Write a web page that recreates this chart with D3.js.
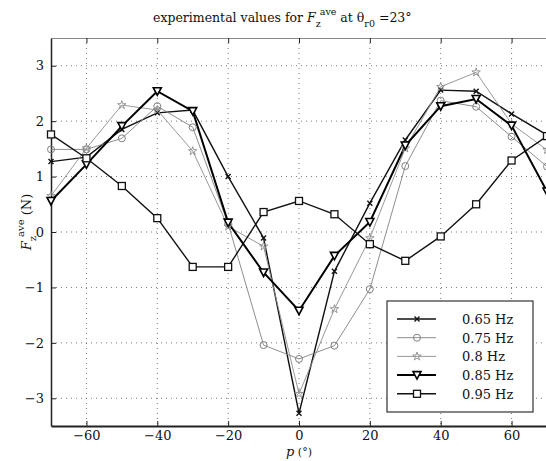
<!DOCTYPE html>
<html>
<head>
<meta charset="utf-8">
<script src="https://cdn.jsdelivr.net/npm/d3@7"></script>
<style>
  body { margin: 0; background: #fff; }
  text { font-family: "DejaVu Serif", "Liberation Serif", serif; fill: #111; }
</style>
</head>
<body>
<div class="canvas"></div>
<script>
const width = 546, height = 461;
const margin = {top: 38, right: -1, bottom: 35, left: 51};

// p (deg)
const angles = [-70, -60, -50, -40, -30, -20, -10, 0, 10, 20, 30, 40, 50, 60, 70];
// F_z ave (N), one array per frequency
const f065 = [1.27, 1.35, 1.85, 2.15, 2.20, 1.00, -0.11, -3.27, -0.71, 0.52, 1.66, 2.56, 2.54, 2.13, 1.75];
const f075 = [1.49, 1.49, 1.69, 2.27, 1.89, 0.15, -2.04, -2.29, -2.05, -1.03, 1.19, 2.37, 2.26, 1.72, 1.18];
const f080 = [0.65, 1.51, 2.29, 2.20, 1.46, 0.10, -0.26, -2.92, -1.39, -0.11, 1.51, 2.62, 2.88, 1.95, 1.48];
const f085 = [0.56, 1.22, 1.91, 2.54, 2.18, 0.17, -0.73, -1.42, -0.43, 0.18, 1.56, 2.27, 2.40, 1.92, 0.73];
const f095 = [1.76, 1.33, 0.83, 0.25, -0.63, -0.63, 0.36, 0.56, 0.32, -0.22, -0.52, -0.08, 0.50, 1.29, 1.73];
const labels = ['0.65 Hz', '0.75 Hz', '0.8 Hz', '0.85 Hz', '0.95 Hz'];
const xTicks = [-60, -40, -20, 0, 20, 40, 60];
const yTicks = [-3, -2, -1, 0, 1, 2, 3];

const series = [
  {name: labels[0], vals: f065, color: '#111', w: 1.4, sym: 'x'},
  {name: labels[1], vals: f075, color: '#808080', w: 0.9, sym: 'o'},
  {name: labels[2], vals: f080, color: '#8c8c8c', w: 0.9, sym: '*'},
  {name: labels[3], vals: f085, color: '#000', w: 2, sym: 'v'},
  {name: labels[4], vals: f095, color: '#111', w: 1.4, sym: 's'}
];

const svg = d3.select('.canvas').append('svg')
  .attr('width', width).attr('height', height);

const x = d3.scaleLinear().domain([-70, 70]).range([margin.left, 547]);
const y = d3.scaleLinear().domain([-3.5, 3.5]).range([426, margin.top]);

svg.append('clipPath').attr('id', 'clip').append('rect')
  .attr('x', x(-70) - 6).attr('y', y(3.5) - 6)
  .attr('width', x(70) - x(-70) + 12).attr('height', y(-3.5) - y(3.5) + 6);

// grid
const grid = svg.append('g');
grid.selectAll('.gx').data(xTicks).enter().append('line')
  .attr('x1', d => x(d)).attr('x2', d => x(d))
  .attr('y1', y(3.5)).attr('y2', y(-3.5))
  .attr('stroke', '#555').attr('stroke-width', 0.8).attr('stroke-dasharray', '1,4');
grid.selectAll('.gy').data(yTicks).enter().append('line')
  .attr('x1', x(-70)).attr('x2', x(70))
  .attr('y1', d => y(d)).attr('y2', d => y(d))
  .attr('stroke', '#555').attr('stroke-width', 0.8).attr('stroke-dasharray', '1,4');

// axes
const xAxisGroup = svg.append('g').attr('transform', `translate(0, ${y(-3.5)})`);
xAxisGroup.call(d3.axisBottom(x).tickValues(xTicks).tickSizeInner(-5).tickSizeOuter(0).tickPadding(5)
  .tickFormat(d => d < 0 ? '\u2212' + Math.abs(d) : d));
const xTop = svg.append('g').attr('transform', `translate(0, ${y(3.5)})`);
xTop.call(d3.axisTop(x).tickValues(xTicks).tickSizeInner(-5).tickSizeOuter(0).tickFormat(''));
const yAxisGroup = svg.append('g').attr('transform', `translate(${x(-70)}, 0)`);
yAxisGroup.call(d3.axisLeft(y).tickValues(yTicks).tickSizeInner(-5).tickSizeOuter(0).tickPadding(7)
  .tickFormat(d => d < 0 ? '\u2212' + Math.abs(d) : d));

svg.selectAll('.domain').attr('stroke', '#222');
xAxisGroup.select('.domain').attr('stroke-width', 2);
xTop.select('.domain').attr('stroke', '#888');
yAxisGroup.select('.domain').attr('stroke-width', 1.5);
svg.selectAll('.tick line').attr('stroke', '#222');
svg.selectAll('.tick text').attr('font-family', '"DejaVu Serif", serif').attr('font-size', 13).attr('fill', '#111');

// lines
const plot = svg.append('g').attr('clip-path', 'url(#clip)');
const line = d3.line().x((d, i) => x(angles[i])).y(d => y(d));

series.forEach(s => {
  plot.append('path').datum(s.vals)
    .attr('d', line)
    .attr('fill', 'none')
    .attr('stroke', s.color)
    .attr('stroke-width', s.w);
});

function marker(g, sym, color, cx, cy) {
  if (sym === 'x') {
    g.append('path').attr('d', `M${cx-2.5},${cy-2.5}L${cx+2.5},${cy+2.5}M${cx-2.5},${cy+2.5}L${cx+2.5},${cy-2.5}`)
      .attr('stroke', color).attr('stroke-width', 1.4);
  } else if (sym === 'o') {
    g.append('circle').attr('cx', cx).attr('cy', cy).attr('r', 3.5)
      .attr('fill', 'none').attr('stroke', color).attr('stroke-width', 1);
  } else if (sym === '*') {
    g.append('path').attr('d', d3.symbol(d3.symbolStar, 22)())
      .attr('transform', `translate(${cx},${cy})`)
      .attr('fill', 'none').attr('stroke', color).attr('stroke-width', 0.9);
  } else if (sym === 'v') {
    g.append('path').attr('d', `M${cx-4},${cy-3.5}L${cx+4},${cy-3.5}L${cx},${cy+4}Z`)
      .attr('fill', '#fff').attr('stroke', color).attr('stroke-width', 1.6);
  } else if (sym === 's') {
    g.append('rect').attr('x', cx - 3.5).attr('y', cy - 3.5).attr('width', 7).attr('height', 7)
      .attr('fill', '#fff').attr('stroke', color).attr('stroke-width', 1.3);
  }
}

series.forEach(s => {
  const g = plot.append('g');
  s.vals.forEach((v, i) => marker(g, s.sym, s.color, x(angles[i]), y(v)));
});

// title
const title = svg.append('text').attr('x', 153).attr('y', 22).attr('font-size', 12.5);
title.append('tspan').text('experimental values for ');
title.append('tspan').attr('font-style', 'italic').text('F');
title.append('tspan').attr('font-size', 9.5).attr('dy', 5).text('z');
title.append('tspan').attr('font-size', 9.5).attr('dy', -12).attr('dx', -1).text('ave');
title.append('tspan').attr('dy', 7).text(' at \u03b8');
title.append('tspan').attr('font-size', 9.5).attr('dy', 5).text('r0');
title.append('tspan').attr('dy', -5).text(' =23\u00b0');

// y label
const yl = svg.append('text').attr('transform', `translate(31, 222) rotate(-90)`)
  .attr('text-anchor', 'middle').attr('font-size', 13);
yl.append('tspan').attr('font-style', 'italic').text('F');
yl.append('tspan').attr('font-size', 10).attr('dy', 5).text('z');
yl.append('tspan').attr('font-size', 10).attr('dy', -12).attr('dx', -1).text('ave');
yl.append('tspan').attr('dy', 7).text(' (N)');

// x label
const xl = svg.append('text').attr('x', 299).attr('y', 456).attr('text-anchor', 'middle').attr('font-size', 13);
xl.append('tspan').attr('font-style', 'italic').text('p');
xl.append('tspan').attr('font-size', 11).text(' (\u00b0)');

// legend
const legend = svg.append('g').attr('transform', 'translate(387, 301)');
legend.append('rect').attr('width', 146).attr('height', 111)
  .attr('fill', '#fff').attr('stroke', '#333').attr('stroke-width', 1.2);
series.forEach((s, i) => {
  const ly = 18 + i * 18.7;
  legend.append('line').attr('x1', 10).attr('x2', 49).attr('y1', ly).attr('y2', ly)
    .attr('stroke', s.color).attr('stroke-width', s.w);
  marker(legend, s.sym, s.color, 30, ly);
  legend.append('text').attr('x', 75).attr('y', ly + 5).attr('font-size', 13).text(s.name);
});
</script>
</body>
</html>
